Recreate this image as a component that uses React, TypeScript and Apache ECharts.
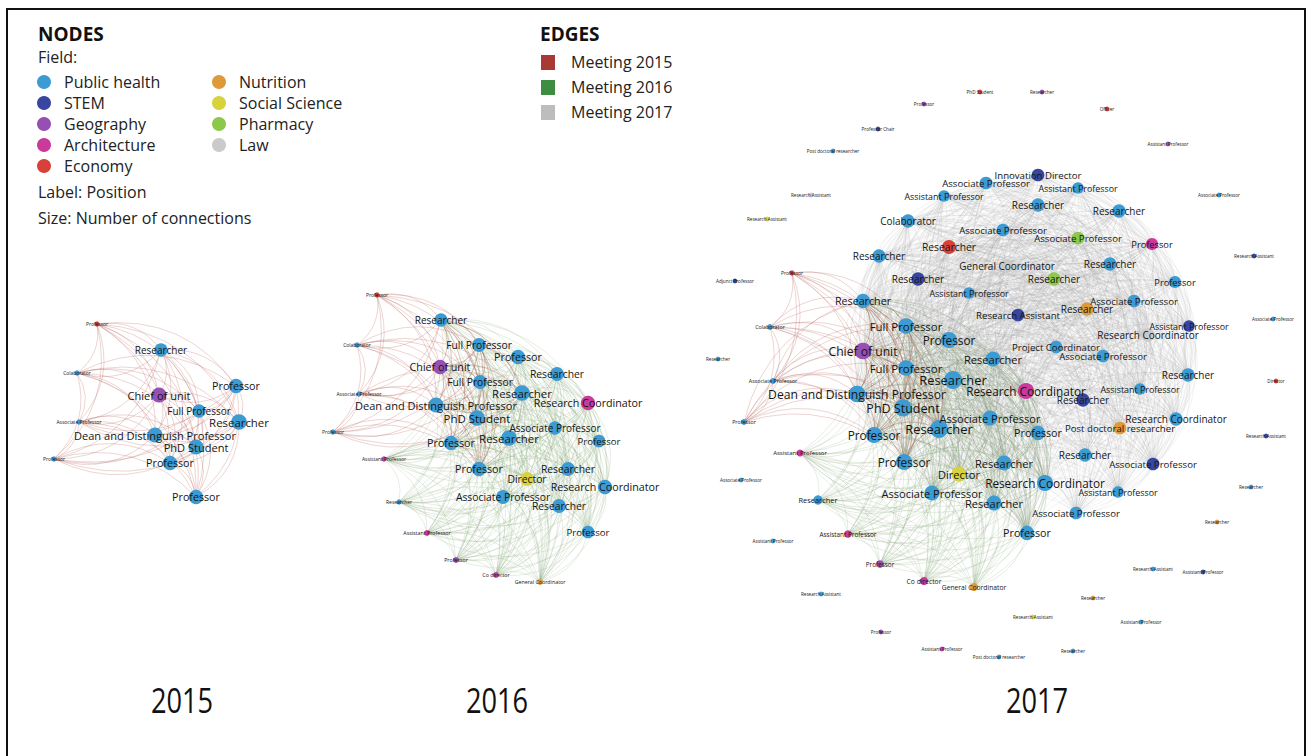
import React, { useEffect, useRef } from "react";
import * as echarts from "echarts";

// ---------- DATA ----------
const FIELDS = ["Public health", "STEM", "Geography", "Architecture", "Economy", "Nutrition", "Social Science", "Pharmacy", "Law"];
const FIELD_COLORS: Record<string, string> = {
  "Public health": "#3d9bd3",
  STEM: "#37479f",
  Geography: "#9650b3",
  Architecture: "#c93a9b",
  Economy: "#d8413a",
  Nutrition: "#de9a3a",
  "Social Science": "#d8d23c",
  Pharmacy: "#8cc84b",
  Law: "#cacaca",
};
const MEETINGS = ["Meeting 2015", "Meeting 2016", "Meeting 2017"];
const MEETING_KEYS = ["15", "16", "17"];
const MEETING_COLORS = ["#a83a35", "#3e8d43", "#bdbdbd"];
const YEARS = ["2015", "2016", "2017"];
const NOTES = ["Label: Position", "Size: Number of connections"];

// [position label, field, number of connections, meetings attended]
type Node = [string, string, number, string];

const nodes2015: Node[] = [
  ["Professor", "Economy", 4, "15"],
  ["Researcher", "Public health", 18, "15"],
  ["Colaborator", "Public health", 4, "15"],
  ["Professor", "Public health", 20, "15"],
  ["Chief of unit", "Geography", 21, "15"],
  ["Full Professor", "Public health", 18, "15"],
  ["Researcher", "Public health", 22, "15"],
  ["Associate Professor", "Public health", 4, "15"],
  ["Dean and Distinguish Professor", "Public health", 21, "15"],
  ["PhD Student", "Public health", 21, "15"],
  ["Professor", "Public health", 4, "15"],
  ["Professor", "Public health", 20, "15"],
  ["Professor", "Public health", 20, "15"],
];
const layout2015: [number, number][] = [
  [97, 324], [161, 350], [77, 373], [236, 386], [159, 395], [199, 411], [239, 422],
  [79, 422], [155, 435], [196, 447], [54, 459], [170, 463], [196, 497],
];

const nodes2016: Node[] = [
  ["Professor", "Economy", 4, "15"],
  ["Researcher", "Public health", 18, "15 16"],
  ["Colaborator", "Public health", 4, "15"],
  ["Full Professor", "Public health", 19, "15 16"],
  ["Professor", "Public health", 20, "16"],
  ["Chief of unit", "Geography", 20, "15 16"],
  ["Researcher", "Public health", 19, "16"],
  ["Full Professor", "Public health", 19, "15 16"],
  ["Associate Professor", "Public health", 4, "15"],
  ["Researcher", "Public health", 22, "15 16"],
  ["Research Coordinator", "Architecture", 20, "16"],
  ["Dean and Distinguish Professor", "Public health", 21, "15 16"],
  ["PhD Student", "Public health", 22, "15 16"],
  ["Associate Professor", "Public health", 18, "16"],
  ["Professor", "Public health", 4, "15"],
  ["Researcher", "Public health", 22, "16"],
  ["Professor", "Public health", 20, "15 16"],
  ["Professor", "Public health", 17, "16"],
  ["Assistant Professor", "Architecture", 4, "16"],
  ["Professor", "Public health", 20, "15 16"],
  ["Researcher", "Public health", 19, "16"],
  ["Director", "Social Science", 19, "16"],
  ["Research Coordinator", "Public health", 20, "16"],
  ["Associate Professor", "Public health", 19, "16"],
  ["Researcher", "Public health", 19, "16"],
  ["Researcher", "Public health", 4, "16"],
  ["Professor", "Public health", 17, "16"],
  ["Assistant Professor", "Architecture", 5, "16"],
  ["Professor", "Geography", 5, "16"],
  ["Co director", "Architecture", 5, "16"],
  ["General Coordinator", "Nutrition", 5, "16"],
];
const layout2016: [number, number][] = [
  [377, 295], [441, 320], [357, 345], [479, 345], [518, 357], [440, 367], [557, 374],
  [480, 382], [359, 394], [522, 393], [588, 403], [436, 405], [477, 418], [555, 428],
  [333, 432], [509, 438], [451, 443], [599, 441], [384, 459], [479, 469], [568, 469],
  [527, 479], [605, 487], [503, 497], [559, 506], [399, 502], [588, 532], [427, 533],
  [456, 560], [496, 575], [540, 582],
];

const nodes2017: Node[] = [
  ["Professor", "Economy", 4, "15"],
  ["Colaborator", "Public health", 5, "15"],
  ["Associate Professor", "Public health", 5, "15"],
  ["Professor", "Public health", 5, "15"],
  ["Researcher", "Public health", 20, "15 16 17"],
  ["Full Professor", "Public health", 22, "15 16 17"],
  ["Chief of unit", "Geography", 24, "15 16 17"],
  ["Full Professor", "Public health", 22, "15 16 17"],
  ["Dean and Distinguish Professor", "Public health", 24, "15 16 17"],
  ["PhD Student", "Public health", 25, "15 16 17"],
  ["Professor", "Public health", 23, "15 16 17"],
  ["Professor", "Public health", 23, "15 16 17"],
  ["Researcher", "Public health", 26, "15 16 17"],
  ["Professor", "Public health", 23, "16 17"],
  ["Researcher", "Public health", 21, "16 17"],
  ["Researcher", "Public health", 26, "16 17"],
  ["Research Coordinator", "Architecture", 23, "16 17"],
  ["Associate Professor", "Public health", 21, "16 17"],
  ["Professor", "Public health", 20, "16 17"],
  ["Researcher", "Public health", 21, "16 17"],
  ["Director", "Social Science", 21, "16 17"],
  ["Research Coordinator", "Public health", 23, "16 17"],
  ["Associate Professor", "Public health", 21, "16 17"],
  ["Researcher", "Public health", 21, "16 17"],
  ["Professor", "Public health", 20, "16 17"],
  ["Assistant Professor", "Architecture", 7, "16"],
  ["Researcher", "Public health", 11, "16"],
  ["Assistant Professor", "Architecture", 8, "16"],
  ["Professor", "Geography", 8, "16"],
  ["Co director", "Architecture", 9, "16"],
  ["General Coordinator", "Nutrition", 9, "16"],
  ["Innovation Director", "STEM", 17, "17"],
  ["Associate Professor", "Public health", 17, "17"],
  ["Assistant Professor", "Public health", 15, "17"],
  ["Assistant Professor", "Public health", 15, "17"],
  ["Researcher", "Public health", 18, "17"],
  ["Researcher", "Public health", 18, "17"],
  ["Colaborator", "Public health", 18, "17"],
  ["Associate Professor", "Public health", 17, "17"],
  ["Associate Professor", "Pharmacy", 17, "17"],
  ["Professor", "Architecture", 16, "17"],
  ["Researcher", "Economy", 19, "17"],
  ["Researcher", "Public health", 18, "17"],
  ["Researcher", "Public health", 18, "17"],
  ["General Coordinator", "Law", 18, "17"],
  ["Researcher", "STEM", 18, "17"],
  ["Researcher", "Pharmacy", 18, "17"],
  ["Professor", "Public health", 16, "17"],
  ["Assistant Professor", "Public health", 15, "17"],
  ["Associate Professor", "Public health", 17, "17"],
  ["Researcher", "Nutrition", 18, "17"],
  ["Research Assistant", "STEM", 17, "17"],
  ["Assistant Professor", "STEM", 15, "17"],
  ["Research Coordinator", "Law", 18, "17"],
  ["Project Coordinator", "Public health", 17, "17"],
  ["Associate Professor", "Public health", 17, "17"],
  ["Researcher", "Public health", 18, "17"],
  ["Assistant Professor", "Public health", 15, "17"],
  ["Researcher", "STEM", 18, "17"],
  ["Research Coordinator", "Public health", 18, "17"],
  ["Post doctoral researcher", "Nutrition", 17, "17"],
  ["Researcher", "Public health", 18, "17"],
  ["Associate Professor", "STEM", 17, "17"],
  ["Assistant Professor", "Public health", 15, "17"],
  ["Associate Professor", "Public health", 17, "17"],
  ["PhD Student", "Economy", 3, ""],
  ["Researcher", "Geography", 3, ""],
  ["Professor", "Geography", 3, ""],
  ["Officer", "Economy", 3, ""],
  ["Professor Chair", "STEM", 3, ""],
  ["Assistant Professor", "Geography", 3, ""],
  ["Post doctoral researcher", "Public health", 3, ""],
  ["Research Assistant", "Law", 3, ""],
  ["Associate Professor", "Public health", 3, ""],
  ["Research Assistant", "Social Science", 3, ""],
  ["Research Assistant", "STEM", 3, ""],
  ["Adjunct Professor", "STEM", 3, ""],
  ["Associate Professor", "Public health", 3, ""],
  ["Researcher", "Public health", 3, ""],
  ["Director", "Economy", 3, ""],
  ["Research Assistant", "STEM", 3, ""],
  ["Associate Professor", "Public health", 3, ""],
  ["Researcher", "Public health", 3, ""],
  ["Researcher", "Nutrition", 3, ""],
  ["Assistant Professor", "Public health", 3, ""],
  ["Research Assistant", "Public health", 3, ""],
  ["Assistant Professor", "STEM", 3, ""],
  ["Research Assistant", "Public health", 3, ""],
  ["Researcher", "Nutrition", 3, ""],
  ["Research Assistant", "Social Science", 3, ""],
  ["Assistant Professor", "Public health", 3, ""],
  ["Professor", "Geography", 3, ""],
  ["Assistant Professor", "Architecture", 3, ""],
  ["Researcher", "Public health", 3, ""],
  ["Post doctoral researcher", "Public health", 3, ""],
];
const layout2017: [number, number][] = [
  [792, 273], [770, 327], [773, 381], [744, 422], [863, 301], [906, 326], [863, 351],
  [906, 368], [857, 394], [903, 408], [874, 435], [904, 462], [939, 429],
  [949, 340], [993, 359], [953, 380], [1026, 391], [990, 418], [1038, 433], [1004, 463],
  [959, 474], [1045, 483], [932, 493], [994, 503], [1027, 533],
  [800, 453], [818, 500], [848, 534], [880, 564], [924, 581], [974, 587],
  [1038, 175], [986, 183], [1078, 188], [944, 196], [1038, 205], [1119, 211], [908, 221],
  [1003, 230], [1078, 238], [1152, 244], [949, 247], [879, 256], [1110, 264], [1007, 266],
  [918, 279], [1054, 279], [1175, 282], [969, 293], [1134, 301], [1087, 309], [1018, 315],
  [1189, 326], [1148, 335], [1056, 347], [1103, 356], [1188, 375], [1140, 389], [1083, 400],
  [1176, 419], [1120, 428], [1085, 455], [1153, 464], [1118, 492], [1076, 513],
  [980, 92], [1042, 92], [924, 104], [1107, 109], [878, 129], [1168, 144], [833, 151],
  [811, 195], [1219, 195], [767, 219], [1254, 256], [735, 281], [1273, 319], [718, 359],
  [1276, 381], [1266, 436], [741, 480], [1251, 487], [1217, 522], [773, 541], [1153, 569],
  [1203, 572], [821, 594], [1093, 598], [1033, 617], [1141, 622], [881, 632], [942, 649],
  [1073, 651], [999, 657],
];

const PANELS = [
  { key: "p15", nodes: nodes2015, layout: layout2015 },
  { key: "p16", nodes: nodes2016, layout: layout2016 },
  { key: "p17", nodes: nodes2017, layout: layout2017 },
];

// ---------- STYLE ----------
const FONT = "'Open Sans', 'DejaVu Sans', sans-serif";
const EDGE_STYLES = [
  { color: "#b4564b", width: 0.6, opacity: 0.42, curveness: 0.3 },
  { color: "#7a9e68", width: 0.5, opacity: 0.38, curveness: 0.3 },
  { color: "#9a9a9a", width: 0.4, opacity: 0.3, curveness: 0.3 },
];
const symbolSizeOf = (c: number) => 3 + c * 0.57;
const fontSizeOf = (c: number) => 3.5 + c * 0.36;

function buildSeries(panel: { key: string; nodes: Node[]; layout: [number, number][] }) {
  const data = panel.nodes.map(([label, field, conn], i) => ({
    id: panel.key + "-" + i,
    name: label,
    value: panel.layout[i],
    symbolSize: symbolSizeOf(conn),
    itemStyle: { color: FIELD_COLORS[field] },
    label: { fontSize: fontSizeOf(conn) },
  }));
  const links: any[] = [];
  // draw 2017 first (bottom), then 2016, then 2015 on top
  [2, 1, 0].forEach((mi) => {
    const key = MEETING_KEYS[mi];
    const att: number[] = [];
    panel.nodes.forEach((n, i) => {
      if (n[3].split(" ").includes(key)) att.push(i);
    });
    for (let a = 0; a < att.length; a++) {
      for (let b = a + 1; b < att.length; b++) {
        links.push({ source: att[a], target: att[b], lineStyle: EDGE_STYLES[mi] });
      }
    }
  });
  return {
    type: "graph",
    layout: "none",
    coordinateSystem: "cartesian2d",
    silent: true,
    emphasis: { disabled: true },
    symbol: "circle",
    data,
    links,
    label: {
      show: true,
      position: "inside",
      formatter: "{b}",
      color: "#151515",
      fontFamily: FONT,
    },
    lineStyle: { curveness: 0.3 },
  };
}

function buildGraphics() {
  const g: any[] = [];
  const txt = (x: number, y: number, text: string, font: string, fill = "#222") => ({
    type: "text",
    x,
    y,
    style: { text, font, fill, textVerticalAlign: "middle" },
  });
  g.push({
    type: "rect",
    shape: { x: 7, y: 9, width: 1298, height: 770 },
    style: { fill: "none", stroke: "#111", lineWidth: 2 },
  });
  g.push(txt(38, 34, "NODES", `bold 19px ${FONT}`, "#111"));
  g.push(txt(38, 57, "Field:", `16px ${FONT}`));
  FIELDS.forEach((f, i) => {
    const col = i < 5 ? 0 : 1;
    const row = i < 5 ? i : i - 5;
    const cx = col === 0 ? 44 : 219;
    const cy = 82 + row * 21;
    g.push({ type: "circle", shape: { cx, cy, r: 7 }, style: { fill: FIELD_COLORS[f] } });
    g.push(txt(cx + 20, cy, f, `16px ${FONT}`));
  });
  NOTES.forEach((t, i) => g.push(txt(38, 192 + i * 26, t, `16px ${FONT}`)));
  g.push(txt(540, 34, "EDGES", `bold 19px ${FONT}`, "#111"));
  MEETINGS.forEach((m, i) => {
    const cy = 62 + i * 25;
    g.push({ type: "rect", shape: { x: 541, y: cy - 7, width: 14, height: 15 }, style: { fill: MEETING_COLORS[i] } });
    g.push(txt(571, cy, m, `16px ${FONT}`));
  });
  const yearX = [182, 497, 1037];
  YEARS.forEach((y, i) => {
    g.push({
      type: "text",
      x: yearX[i],
      y: 700,
      scaleX: 0.8,
      style: {
        text: y,
        font: `34px 'Open Sans', sans-serif`,
        fill: "#111",
        textAlign: "center",
        textVerticalAlign: "middle",
      },
    });
  });
  return g;
}

export default function App() {
  const ref = useRef<HTMLDivElement>(null);
  useEffect(() => {
    if (!ref.current) return;
    const chart = echarts.init(ref.current, undefined, { renderer: "svg" });
    chart.setOption({
      animation: false,
      backgroundColor: "#ffffff",
      grid: { left: 0, right: 0, top: 0, bottom: 0, containLabel: false },
      xAxis: { type: "value", min: 0, max: 1312, show: false },
      yAxis: { type: "value", min: 0, max: 756, inverse: true, show: false },
      graphic: buildGraphics(),
      series: PANELS.map(buildSeries),
    });
    return () => chart.dispose();
  }, []);
  return (
    <div
      ref={ref}
      style={{ position: "fixed", left: 0, top: 0, width: 1312, height: 756, background: "#fff" }}
    />
  );
}
